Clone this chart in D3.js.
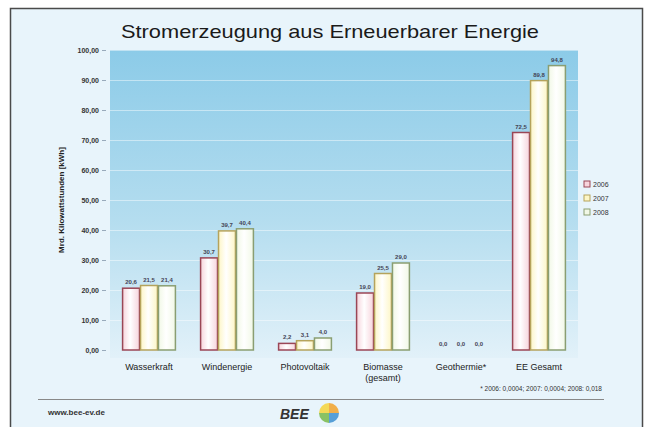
<!DOCTYPE html>
<html>
<head>
<meta charset="utf-8">
<script src="https://cdn.jsdelivr.net/npm/d3@7"></script>
<style>
  body { margin: 0; background: #fff; }
  svg { display: block; font-family: "Liberation Sans", Arial, sans-serif; }
</style>
</head>
<body>
<div id="chart"></div>
<script>
//Width and height
var w = 653;
var h = 427;

//data
var categories = ["Wasserkraft", "Windenergie", "Photovoltaik", "Biomasse (gesamt)", "Geothermie*", "EE Gesamt"];
var years = ["2006", "2007", "2008"];
var values2006 = [20.6, 30.7, 2.2, 19.0, 0.0, 72.5];
var values2007 = [21.5, 39.7, 3.1, 25.5, 0.0, 89.8];
var values2008 = [21.4, 40.4, 4.0, 29.0, 0.0, 94.8];
var yTicks = [0, 10, 20, 30, 40, 50, 60, 70, 80, 90, 100];

var series = [values2006, values2007, values2008];
var fills = ["#f7d4dc", "#fdf6c6", "#f1f8e6"];
var strokes = ["#9a4656", "#b5a35c", "#8a9e72"];

var comma = function(v, digits) {
  return v.toFixed(digits).replace(".", ",");
};

//Create SVG element
var svg = d3.select("#chart")
  .append("svg")
  .attr("width", w)
  .attr("height", h);

var defs = svg.append("defs");

//panel gradient (blue at top, pale at bottom)
var pg = defs.append("linearGradient")
  .attr("id", "panelGrad")
  .attr("x1", 0).attr("y1", 0).attr("x2", 0).attr("y2", 1);
pg.append("stop").attr("offset", "0%").attr("stop-color", "#8ccbe8");
pg.append("stop").attr("offset", "55%").attr("stop-color", "#b4ddef");
pg.append("stop").attr("offset", "100%").attr("stop-color", "#e2f1f9");

//bar gradients, lighter middle like a little cylinder
fills.forEach(function(f, i) {
  var g = defs.append("linearGradient")
    .attr("id", "barGrad" + i)
    .attr("x1", 0).attr("y1", 0).attr("x2", 1).attr("y2", 0);
  g.append("stop").attr("offset", "0%").attr("stop-color", f);
  g.append("stop").attr("offset", "45%").attr("stop-color", "#ffffff");
  g.append("stop").attr("offset", "100%").attr("stop-color", f);
});

//background + frame
svg.append("rect")
  .attr("width", w).attr("height", h)
  .attr("fill", "#ffffff");
svg.append("rect")
  .attr("x", 10.5).attr("y", 8.5)
  .attr("width", 632).attr("height", 440)
  .attr("fill", "#e8f4fb")
  .attr("stroke", "#4a4a4a")
  .attr("stroke-width", 1.5);

//scales
var x0 = d3.scaleBand()
  .domain(categories)
  .range([110, 578])
  .paddingInner(0.31)
  .paddingOuter(0.155);

var x1 = d3.scaleBand()
  .domain(years)
  .range([0, x0.bandwidth()]);

var y = d3.scaleLinear()
  .domain([0, 100])
  .range([350, 50]);

//blue panel
svg.append("rect")
  .attr("x", 110)
  .attr("y", y(100))
  .attr("width", 468)
  .attr("height", y(0) - y(100) + 8)
  .attr("fill", "url(#panelGrad)");

//light grid lines
svg.selectAll("line.grid")
  .data(yTicks.slice(1))
  .enter()
  .append("line")
  .attr("class", "grid")
  .attr("x1", 110).attr("x2", 578)
  .attr("y1", function(d) { return y(d) + 0.5; })
  .attr("y2", function(d) { return y(d) + 0.5; })
  .attr("stroke", "#ffffff")
  .attr("stroke-opacity", 0.45)
  .attr("stroke-width", 1);

//y axis
var yAxis = d3.axisLeft(y)
  .tickValues(yTicks)
  .tickSize(4)
  .tickPadding(3)
  .tickFormat(function(d) { return comma(d, 2); });

var ga = svg.append("g")
  .attr("transform", "translate(106,0)")
  .call(yAxis);
ga.select(".domain").remove();
ga.selectAll(".tick line").attr("stroke", "#9ab");
ga.selectAll(".tick text")
  .attr("font-size", "7px")
  .attr("font-weight", "bold")
  .attr("font-family", "Liberation Sans, Arial, sans-serif")
  .attr("fill", "#333");

//y axis title
svg.append("text")
  .attr("transform", "translate(64,200) rotate(-90)")
  .attr("text-anchor", "middle")
  .attr("font-size", "8px")
  .attr("font-weight", "bold")
  .attr("fill", "#222")
  .text("Mrd. Kilowattstunden [kWh]");

//title
svg.append("text")
  .attr("x", 330)
  .attr("y", 38)
  .attr("text-anchor", "middle")
  .attr("font-size", "19px")
  .attr("fill", "#1a1a1a")
  .attr("textLength", 418)
  .attr("lengthAdjust", "spacingAndGlyphs")
  .text("Stromerzeugung aus Erneuerbarer Energie");

//bars
var groups = svg.selectAll("g.group")
  .data(categories)
  .enter()
  .append("g")
  .attr("class", "group")
  .attr("transform", function(d) { return "translate(" + x0(d) + ",0)"; });

groups.selectAll("rect")
  .data(function(d, ci) {
    return years.map(function(yr, si) {
      return { year: yr, s: si, value: series[si][ci] };
    });
  })
  .enter()
  .append("rect")
  .attr("x", function(d) { return x1(d.year) + 0.5; })
  .attr("y", function(d) { return y(d.value); })
  .attr("width", x1.bandwidth() - 1)
  .attr("height", function(d) { return y(0) - y(d.value); })
  .attr("fill", function(d) { return "url(#barGrad" + d.s + ")"; })
  .attr("stroke", function(d) { return strokes[d.s]; })
  .attr("stroke-width", 1.5);

//value labels
groups.selectAll("text.val")
  .data(function(d, ci) {
    return years.map(function(yr, si) {
      return { year: yr, s: si, value: series[si][ci] };
    });
  })
  .enter()
  .append("text")
  .attr("class", "val")
  .attr("text-anchor", "middle")
  .attr("x", function(d) { return x1(d.year) + x1.bandwidth() / 2; })
  .attr("y", function(d) { return y(d.value) - 4; })
  .attr("font-size", "6px")
  .attr("font-weight", "bold")
  .attr("fill", "#445")
  .text(function(d) { return comma(d.value, 1); });

//category labels
svg.selectAll("text.cat")
  .data(categories)
  .enter()
  .append("text")
  .attr("class", "cat")
  .attr("text-anchor", "middle")
  .attr("x", function(d) { return x0(d) + x0.bandwidth() / 2; })
  .attr("y", 370)
  .attr("font-size", "9px")
  .attr("fill", "#222")
  .each(function(d) {
    var parts = d.split(" (");
    var t = d3.select(this);
    t.append("tspan").text(parts[0]);
    if (parts.length > 1) {
      t.append("tspan")
        .attr("x", x0(d) + x0.bandwidth() / 2)
        .attr("dy", 11)
        .text("(" + parts[1]);
    }
  });

//legend
var legend = svg.selectAll("g.legend")
  .data(years)
  .enter()
  .append("g")
  .attr("class", "legend")
  .attr("transform", function(d, i) { return "translate(584," + (181 + i * 14) + ")"; });

legend.append("rect")
  .attr("width", 6).attr("height", 6)
  .attr("fill", function(d, i) { return fills[i]; })
  .attr("stroke", function(d, i) { return strokes[i]; });

legend.append("text")
  .attr("x", 9).attr("y", 6)
  .attr("font-size", "7px")
  .attr("fill", "#333")
  .text(function(d) { return d; });

//footnote
svg.append("text")
  .attr("x", 602)
  .attr("y", 391)
  .attr("text-anchor", "end")
  .attr("font-size", "6.5px")
  .attr("fill", "#333")
  .text("* 2006: 0,0004; 2007: 0,0004; 2008: 0,018");

svg.append("line")
  .attr("x1", 38).attr("x2", 604)
  .attr("y1", 399.5).attr("y2", 399.5)
  .attr("stroke", "#888")
  .attr("stroke-width", 1.2);

svg.append("text")
  .attr("x", 48)
  .attr("y", 415)
  .attr("font-size", "8px")
  .attr("font-weight", "bold")
  .attr("fill", "#333")
  .text("www.bee-ev.de");

//BEE logo
svg.append("text")
  .attr("x", 280)
  .attr("y", 419)
  .attr("font-size", "14px")
  .attr("font-weight", "bold")
  .attr("font-style", "italic")
  .attr("fill", "#333")
  .text("BEE");

var logoColors = ["#f2a22a", "#3d8fd0", "#78b84a", "#f6d43a"];
var arc = d3.arc().innerRadius(0).outerRadius(10);
var pie = d3.pie().sort(null)([1, 1, 1, 1]);
svg.append("g")
  .attr("transform", "translate(329,413)")
  .selectAll("path")
  .data(pie)
  .enter()
  .append("path")
  .attr("d", arc)
  .attr("fill", function(d, i) { return logoColors[i]; })
  .attr("opacity", 0.85);
</script>
</body>
</html>
